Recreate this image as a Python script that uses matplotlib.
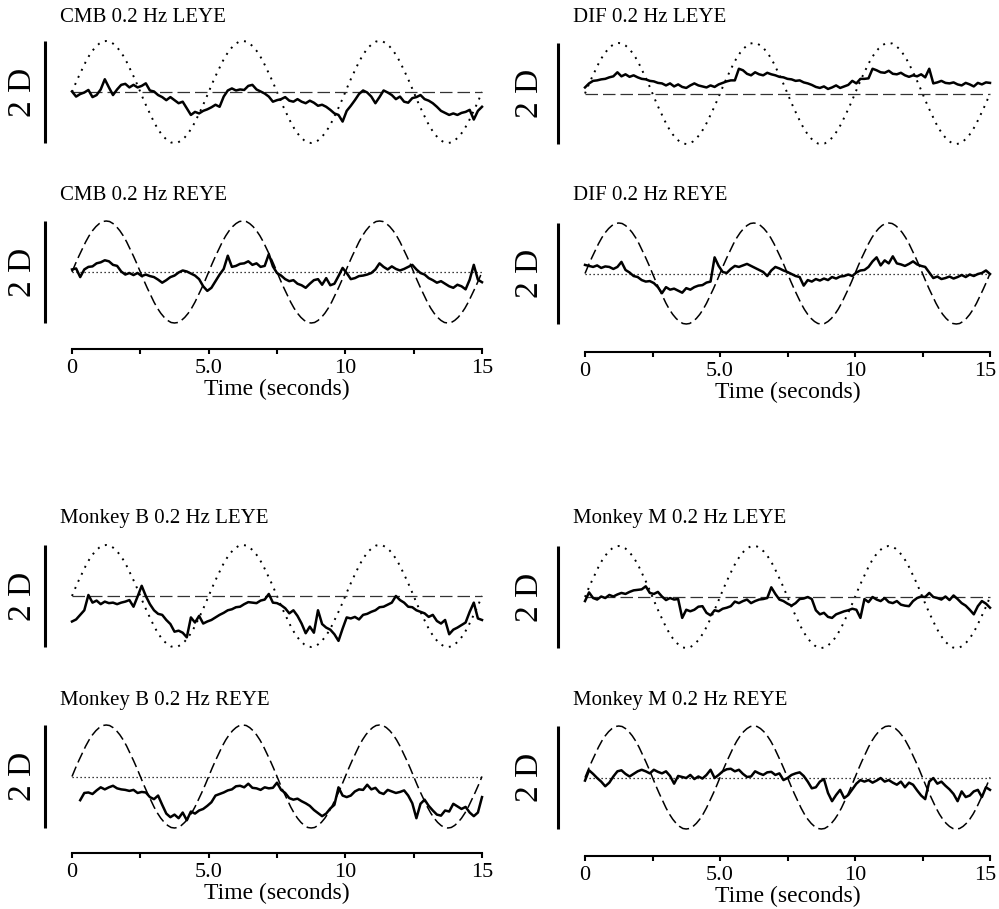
import numpy as np
import matplotlib.pyplot as plt
from matplotlib.transforms import ScaledTranslation

plt.rcParams['font.family'] = ['Liberation Serif', 'DejaVu Serif']

# ── time bases ─────────────────────────────────────────────────────
t_stim = np.linspace(0, 15, 121)   # target, 0.125 s steps
t_eye = np.linspace(0, 15, 101)    # eye traces, 0.15 s steps

# one cycle of the 0.2 Hz target (D), 0.125 s steps
stim_cycle = [0.00, 0.16, 0.31, 0.45, 0.59, 0.71, 0.81, 0.89, 0.95, 0.99,
              1.00, 0.99, 0.95, 0.89, 0.81, 0.71, 0.59, 0.45, 0.31, 0.16,
              0.00, -0.16, -0.31, -0.45, -0.59, -0.71, -0.81, -0.89, -0.95, -0.99,
              -1.00, -0.99, -0.95, -0.89, -0.81, -0.71, -0.59, -0.45, -0.31, -0.16]
stim = np.append(np.tile(stim_cycle, 3), 0.0)
flat = [0.0, 0.0]

titles = ['CMB 0.2 Hz LEYE', 'CMB 0.2 Hz REYE', 'DIF 0.2 Hz LEYE', 'DIF 0.2 Hz REYE',
          'Monkey B 0.2 Hz LEYE', 'Monkey B 0.2 Hz REYE',
          'Monkey M 0.2 Hz LEYE', 'Monkey M 0.2 Hz REYE']
tick_vals = [0, 5, 10, 15]
tick_labels = ['0', '5.0', '10', '15']

# ── accommodation traces (D) ───────────────────────────────────────
cmb_l = [0.01, -0.09, -0.04, -0.01, 0.04, -0.10, -0.06, 0.05, 0.25, 0.09,
         -0.06, 0.05, 0.14, 0.16, 0.09, 0.14, 0.09, 0.12, 0.17, 0.03,
         0.01, -0.06, -0.10, -0.16, -0.10, -0.16, -0.22, -0.19, -0.32, -0.45,
         -0.39, -0.42, -0.37, -0.34, -0.30, -0.25, -0.29, -0.09, 0.03, 0.07,
         0.03, 0.05, 0.04, 0.12, 0.14, 0.05, 0.01, -0.03, -0.09, -0.19,
         -0.16, -0.14, -0.10, -0.17, -0.19, -0.14, -0.19, -0.22, -0.17, -0.21,
         -0.27, -0.25, -0.29, -0.35, -0.42, -0.45, -0.58, -0.37, -0.27, -0.16,
         -0.04, 0.03, -0.01, -0.09, -0.22, -0.10, 0.03, -0.01, -0.06, -0.14,
         -0.09, -0.19, -0.21, -0.12, -0.10, -0.06, -0.14, -0.17, -0.22, -0.29,
         -0.37, -0.41, -0.45, -0.42, -0.45, -0.41, -0.39, -0.35, -0.54, -0.37, -0.29]
cmb_r = [0.05, 0.07, -0.10, 0.05, 0.10, 0.11, 0.17, 0.19, 0.23, 0.21,
         0.14, 0.12, 0.01, -0.05, -0.02, -0.06, -0.02, -0.08, -0.05, -0.08,
         -0.10, -0.15, -0.21, -0.16, -0.10, -0.07, -0.01, 0.03, 0.01, -0.03,
         -0.07, -0.14, -0.28, -0.37, -0.31, -0.18, -0.05, 0.06, 0.32, 0.10,
         0.12, 0.16, 0.17, 0.21, 0.14, 0.17, 0.10, 0.12, 0.35, 0.11,
         -0.02, -0.07, -0.14, -0.18, -0.16, -0.23, -0.26, -0.31, -0.23, -0.16,
         -0.14, -0.25, -0.12, -0.26, -0.23, -0.08, 0.08, -0.02, -0.14, -0.12,
         -0.08, -0.07, -0.05, -0.02, 0.05, 0.17, 0.10, 0.05, 0.11, 0.06,
         0.03, 0.06, 0.10, 0.14, 0.05, -0.02, -0.05, -0.12, -0.16, -0.21,
         -0.18, -0.23, -0.28, -0.31, -0.25, -0.28, -0.34, -0.15, 0.14, -0.15, -0.20]
dif_l = [0.12, 0.20, 0.25, 0.26, 0.28, 0.29, 0.32, 0.34, 0.42, 0.34,
         0.38, 0.33, 0.36, 0.32, 0.29, 0.28, 0.25, 0.24, 0.21, 0.20,
         0.16, 0.20, 0.14, 0.18, 0.13, 0.11, 0.16, 0.20, 0.16, 0.14,
         0.12, 0.16, 0.13, 0.18, 0.21, 0.24, 0.26, 0.26, 0.49, 0.46,
         0.39, 0.36, 0.42, 0.38, 0.36, 0.41, 0.38, 0.36, 0.33, 0.32,
         0.29, 0.28, 0.25, 0.26, 0.22, 0.20, 0.17, 0.13, 0.11, 0.14,
         0.09, 0.12, 0.16, 0.11, 0.14, 0.17, 0.25, 0.20, 0.29, 0.29,
         0.30, 0.49, 0.46, 0.42, 0.41, 0.45, 0.39, 0.38, 0.41, 0.36,
         0.33, 0.36, 0.34, 0.38, 0.32, 0.49, 0.20, 0.22, 0.25, 0.21,
         0.20, 0.22, 0.18, 0.16, 0.21, 0.18, 0.14, 0.21, 0.18, 0.22, 0.21]
dif_r = [0.17, 0.15, 0.13, 0.16, 0.11, 0.14, 0.13, 0.09, 0.13, 0.23,
         0.07, 0.02, -0.05, -0.07, -0.13, -0.16, -0.15, -0.19, -0.27, -0.39,
         -0.27, -0.32, -0.30, -0.34, -0.38, -0.29, -0.32, -0.27, -0.24, -0.23,
         -0.18, -0.16, 0.32, 0.15, 0.03, 0.01, 0.09, 0.15, 0.13, 0.16,
         0.19, 0.15, 0.11, 0.07, 0.03, -0.05, 0.06, 0.13, 0.10, 0.06,
         0.03, -0.01, -0.05, -0.07, -0.24, -0.13, -0.16, -0.11, -0.14, -0.10,
         -0.13, -0.07, -0.10, -0.06, -0.05, -0.02, -0.05, 0.02, 0.06, 0.07,
         0.13, 0.24, 0.32, 0.16, 0.26, 0.20, 0.34, 0.20, 0.18, 0.15,
         0.19, 0.24, 0.18, 0.15, 0.13, 0.02, -0.09, -0.06, -0.11, -0.09,
         -0.06, -0.10, -0.07, -0.03, -0.07, -0.02, -0.05, -0.01, 0.01, 0.06, -0.01]
mb_l = [-0.50, -0.46, -0.37, -0.28, 0.02, -0.13, -0.09, -0.16, -0.11, -0.14,
        -0.13, -0.16, -0.13, -0.11, -0.08, -0.21, -0.01, 0.20, 0.00, -0.16,
        -0.28, -0.35, -0.37, -0.47, -0.55, -0.70, -0.68, -0.72, -0.81, -0.42,
        -0.52, -0.39, -0.54, -0.50, -0.47, -0.42, -0.37, -0.33, -0.28, -0.26,
        -0.22, -0.21, -0.16, -0.12, -0.13, -0.14, -0.09, -0.07, 0.04, -0.13,
        -0.14, -0.18, -0.24, -0.34, -0.28, -0.39, -0.54, -0.73, -0.60, -0.72,
        -0.28, -0.55, -0.62, -0.66, -0.75, -0.88, -0.64, -0.42, -0.44, -0.41,
        -0.46, -0.37, -0.35, -0.31, -0.28, -0.22, -0.21, -0.17, -0.13, 0.00,
        -0.08, -0.13, -0.21, -0.22, -0.28, -0.31, -0.34, -0.41, -0.37, -0.49,
        -0.54, -0.47, -0.75, -0.66, -0.62, -0.57, -0.52, -0.31, -0.13, -0.44, -0.47]
mb_r = [np.nan, np.nan, -0.46, -0.32, -0.31, -0.34, -0.27, -0.21, -0.25, -0.21,
        -0.18, -0.23, -0.25, -0.26, -0.28, -0.26, -0.32, -0.30, -0.31, -0.40,
        -0.44, -0.37, -0.55, -0.72, -0.79, -0.74, -0.81, -0.70, -0.85, -0.68,
        -0.72, -0.66, -0.63, -0.57, -0.50, -0.37, -0.34, -0.31, -0.27, -0.25,
        -0.19, -0.18, -0.21, -0.14, -0.22, -0.23, -0.26, -0.21, -0.23, -0.22,
        -0.12, -0.26, -0.32, -0.42, -0.45, -0.43, -0.48, -0.52, -0.57, -0.65,
        -0.71, -0.77, -0.72, -0.62, -0.55, -0.21, -0.37, -0.40, -0.37, -0.29,
        -0.25, -0.26, -0.16, -0.25, -0.22, -0.31, -0.34, -0.26, -0.29, -0.32,
        -0.30, -0.27, -0.37, -0.52, -0.81, -0.53, -0.45, -0.57, -0.66, -0.74,
        -0.76, -0.66, -0.68, -0.53, -0.58, -0.63, -0.59, -0.70, -0.77, -0.70, -0.40]
mm_l = [-0.08, 0.09, -0.02, -0.05, 0.01, -0.02, 0.04, 0.01, 0.05, 0.08,
        0.06, 0.10, 0.13, 0.14, 0.15, 0.21, 0.08, 0.06, 0.10, 0.01,
        -0.06, -0.02, -0.05, -0.04, -0.41, -0.25, -0.28, -0.25, -0.19, -0.18,
        -0.31, -0.36, -0.26, -0.28, -0.23, -0.21, -0.18, -0.09, -0.12, -0.08,
        -0.05, -0.12, -0.08, -0.05, -0.04, -0.02, 0.19, 0.06, -0.05, -0.08,
        -0.13, -0.17, -0.12, -0.04, -0.03, 0.00, -0.04, -0.26, -0.34, -0.31,
        -0.39, -0.41, -0.34, -0.31, -0.28, -0.26, -0.23, -0.25, -0.41, -0.04,
        -0.10, 0.00, -0.05, -0.08, -0.02, -0.10, -0.12, -0.08, -0.15, -0.17,
        -0.18, -0.08, -0.02, 0.01, 0.00, 0.08, 0.00, -0.02, -0.05, 0.01,
        -0.06, 0.03, -0.04, -0.12, -0.17, -0.25, -0.34, -0.18, -0.08, -0.13, -0.21]
mm_r = [-0.06, 0.14, 0.07, -0.01, -0.08, -0.17, -0.10, 0.02, 0.12, 0.14,
        0.07, 0.02, 0.07, 0.12, 0.15, 0.12, 0.08, 0.15, 0.11, 0.08,
        0.12, 0.03, -0.12, 0.03, 0.01, -0.01, 0.05, -0.03, 0.02, -0.02,
        0.05, 0.15, -0.01, 0.05, 0.12, 0.16, 0.17, 0.12, 0.15, 0.07,
        0.01, 0.02, 0.12, 0.08, 0.05, 0.10, 0.11, 0.05, 0.08, -0.05,
        -0.01, 0.05, 0.08, 0.10, 0.03, -0.08, -0.21, -0.19, -0.08, -0.03,
        -0.30, -0.46, -0.34, -0.24, -0.40, -0.34, -0.23, -0.12, -0.05, -0.08,
        -0.05, -0.10, -0.06, -0.01, -0.08, -0.05, -0.10, -0.14, -0.08, -0.19,
        -0.10, -0.14, -0.25, -0.35, -0.42, -0.08, -0.01, -0.12, -0.08, -0.16,
        -0.23, -0.32, -0.46, -0.27, -0.38, -0.35, -0.27, -0.24, -0.38, -0.19, -0.24]
traces = [cmb_l, cmb_r, dif_l, dif_r, mb_l, mb_r, mm_l, mm_r]

# ── layout in pixels (figure is 999 x 909) ─────────────────────────
W, H = 999, 909
col_x = {'L': (72, 482), 'R': (585, 990)}
# column, y of +1 D, y of -1 D, title y, time-axis y (None = no axis)
layout = [('L', 41, 143, 17, None), ('L', 221, 323, 195, 349),
          ('R', 43, 144, 17, None), ('R', 223, 324, 195, 352),
          ('L', 545, 647, 518, None), ('L', 725, 828, 700, 853),
          ('R', 546, 648, 518, None), ('R', 726, 829, 700, 856)]

fig = plt.figure(figsize=(W / 100, H / 100), dpi=100)

for title, trace, (col, ytop, ybot, ytitle, yaxis) in zip(titles, traces, layout):
    x0, x1 = col_x[col]
    ax = fig.add_axes([x0 / W, 1 - ybot / H, (x1 - x0) / W, (ybot - ytop) / H])
    ax.set_xlim(0, 15)
    ax.set_ylim(-1, 1)
    for s in ['top', 'right', 'left', 'bottom']:
        ax.spines[s].set_visible(False)
    ax.set_yticks([])

    left_eye = 'LEYE' in title
    if left_eye:
        ax.plot(t_stim, stim, color='black', lw=1.4, ls=(0, (1, 3)), clip_on=False)
        ax.plot([0, 15], flat, color='#333333', lw=0.9, ls=(0, (10, 4)), clip_on=False)
    else:
        ax.plot(t_stim, stim, color='black', lw=1.1, ls=(0, (7, 3)), clip_on=False)
        ax.plot([0, 15], flat, color='black', lw=0.9, ls=(0, (1, 2.2)), clip_on=False)
    ax.plot(t_eye, trace, color='black', lw=1.8, clip_on=False)

    # 2 D scale bar
    bx = (45 - 72) / 410 if col == 'L' else (558 - 585) / 405
    ax.plot([bx, bx], [-1, 1], color='black', lw=2.2, transform=ax.get_yaxis_transform(),
            clip_on=False, solid_capstyle='butt')
    tx = (23 - 72) / 410 if col == 'L' else (530 - 585) / 405
    ax.text(tx, 0, '2 D', rotation=90, fontsize=24, ha='center', va='center',
            transform=ax.get_yaxis_transform())

    fig.text((x0 - 12) / W, 1 - ytitle / H, title, fontsize=15, ha='left', va='center')

    if yaxis is None:
        ax.set_xticks([])
    else:
        ax.spines['bottom'].set_visible(True)
        ax.spines['bottom'].set_position(('outward', (yaxis - ybot) * 0.72))
        ax.spines['bottom'].set_linewidth(1.5)
        ax.set_xticks(tick_vals)
        ax.set_xticklabels(tick_labels)
        ax.set_xticks([2.5, 7.5, 12.5], minor=True)
        ax.tick_params(axis='x', which='both', direction='out', length=3.5, width=1.5,
                       labelsize=16, pad=4)
        ax.set_xlabel('Time (seconds)', fontsize=17, labelpad=0)
        if col == 'R':
            # keep the last label inside the figure edge
            lab = ax.get_xticklabels()[-1]
            lab.set_transform(lab.get_transform() + ScaledTranslation(-5 / 100, 0, fig.dpi_scale_trans))

plt.savefig('out.png', dpi=100)
